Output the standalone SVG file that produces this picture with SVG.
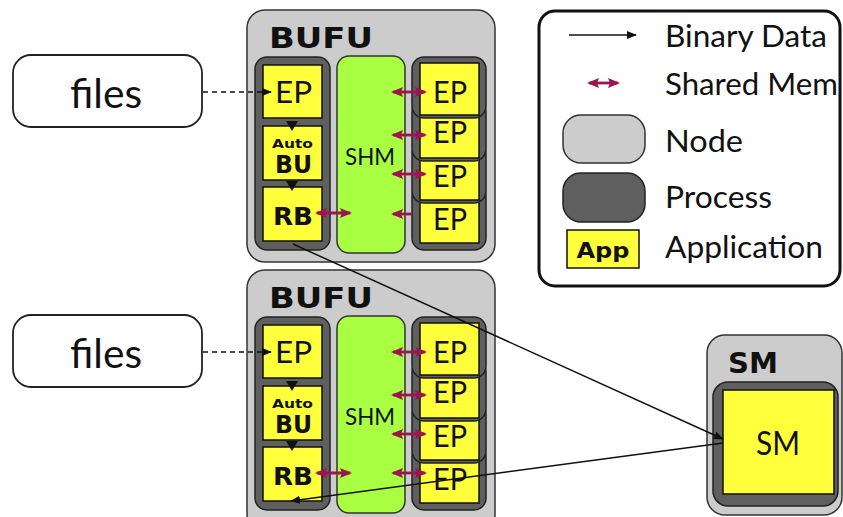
<svg xmlns="http://www.w3.org/2000/svg" width="843" height="517" viewBox="0 0 843 517">
<style>
.node{fill:#cccccc;stroke:#333;stroke-width:1.5}
.proc{fill:#5f5f5f;stroke:#222;stroke-width:1.5}
.app{fill:#ffff3c;stroke:#111;stroke-width:1.5}
.shm{fill:#a9ff42;stroke:#333;stroke-width:1.5}
.file{fill:#fff;stroke:#222;stroke-width:1.8}
text{font-family:Lato,"Open Sans","Liberation Sans",sans-serif;fill:#111}
.b{font-family:"DejaVu Sans","Liberation Sans",sans-serif;font-weight:bold}
.data{stroke:#111;stroke-width:1.5;fill:none}
.mem{stroke:#9b1550;stroke-width:2.8;fill:none}
</style>
<defs>
<marker id="ah" viewBox="0 0 10 10" refX="9" refY="5" markerWidth="10" markerHeight="10" markerUnits="userSpaceOnUse" orient="auto">
<path d="M0,1 L10,5 L0,9 Z" fill="#111"/>
</marker>
<marker id="mh" viewBox="0 0 12 10" refX="10" refY="5" markerWidth="12" markerHeight="10" markerUnits="userSpaceOnUse" orient="auto-start-reverse">
<path d="M0,0 L12,5 L0,10 L2,5 Z" fill="#9b1550"/>
</marker>
<g id="bufuTpl">
<rect class="proc" x="255" y="57" width="75" height="193" rx="12"/>
<rect class="app" x="263" y="65" width="59" height="53"/>
<rect class="app" x="263" y="126" width="59" height="54"/>
<rect class="app" x="263" y="187" width="59" height="54"/>
<text x="293.5" y="103" font-size="30" text-anchor="middle" textLength="37" lengthAdjust="spacingAndGlyphs">EP</text>
<text class="b" x="292.5" y="148" font-size="13" text-anchor="middle" textLength="41" lengthAdjust="spacingAndGlyphs">Auto</text>
<text class="b" x="293.5" y="173" font-size="24" text-anchor="middle" textLength="37" lengthAdjust="spacingAndGlyphs">BU</text>
<text class="b" x="293" y="225" font-size="24" text-anchor="middle" textLength="40" lengthAdjust="spacingAndGlyphs">RB</text>
<rect class="shm" x="337" y="56" width="68" height="197" rx="12"/>
<text x="370" y="165" font-size="23" text-anchor="middle" textLength="50" lengthAdjust="spacingAndGlyphs">SHM</text>
<rect class="proc" x="412" y="184" width="74" height="66" rx="12"/>
<rect class="app" x="420" y="190" width="59" height="53"/>
<text x="450" y="230" font-size="30" text-anchor="middle" textLength="34" lengthAdjust="spacingAndGlyphs">EP</text>
<rect class="proc" x="412" y="142" width="74" height="61" rx="12"/>
<rect class="app" x="420" y="148" width="59" height="52"/>
<text x="450" y="187" font-size="30" text-anchor="middle" textLength="34" lengthAdjust="spacingAndGlyphs">EP</text>
<rect class="proc" x="412" y="100" width="74" height="61" rx="12"/>
<rect class="app" x="420" y="106" width="59" height="52"/>
<text x="450" y="143" font-size="30" text-anchor="middle" textLength="34" lengthAdjust="spacingAndGlyphs">EP</text>
<rect class="proc" x="412" y="57" width="74" height="61" rx="12"/>
<rect class="app" x="420" y="63" width="59" height="52"/>
<text x="450" y="103" font-size="30" text-anchor="middle" textLength="34" lengthAdjust="spacingAndGlyphs">EP</text>
</g>
</defs>
<rect width="843" height="517" fill="#fff"/>

<g id="files1">
<rect class="file" x="13" y="55" width="189" height="72" rx="18"/>
<text x="106" y="108" font-size="40" text-anchor="middle" textLength="72" lengthAdjust="spacingAndGlyphs">files</text>
</g>
<g id="files2">
<rect class="file" x="13" y="315" width="189" height="72" rx="18"/>
<text x="106" y="368" font-size="40" text-anchor="middle" textLength="72" lengthAdjust="spacingAndGlyphs">files</text>
</g>

<g id="bufu1">
<rect class="node" x="247" y="10" width="248" height="252" rx="18"/>
<text class="b" x="269" y="48" font-size="29" textLength="104" lengthAdjust="spacingAndGlyphs">BUFU</text>
<use href="#bufuTpl"/>
</g>
<g id="bufu2">
<rect class="node" x="247" y="270" width="248" height="262" rx="18"/>
<text class="b" x="269" y="308" font-size="29" textLength="104" lengthAdjust="spacingAndGlyphs">BUFU</text>
<use href="#bufuTpl" y="260"/>
</g>

<g id="sm">
<rect class="node" x="707" y="335" width="135" height="180" rx="18"/>
<text class="b" x="728" y="373" font-size="28" textLength="50" lengthAdjust="spacingAndGlyphs">SM</text>
<rect class="proc" x="713" y="382" width="125" height="124" rx="15"/>
<rect class="app" x="723" y="390" width="111" height="104"/>
<text x="778" y="455" font-size="32" text-anchor="middle" textLength="44" lengthAdjust="spacingAndGlyphs">SM</text>
</g>

<g id="legend">
<rect x="539" y="11" width="301" height="275" rx="16" fill="#fff" stroke="#111" stroke-width="3"/>
<line class="data" x1="569" y1="35" x2="636" y2="35" marker-end="url(#ah)"/>
<text x="665" y="47" font-size="30" textLength="162" lengthAdjust="spacingAndGlyphs">Binary Data</text>
<line class="mem" x1="589" y1="83" x2="618" y2="83" stroke-width="2.2" marker-start="url(#mh)" marker-end="url(#mh)"/>
<text x="665" y="95" font-size="30" textLength="173" lengthAdjust="spacingAndGlyphs">Shared Mem</text>
<rect class="node" x="563" y="115" width="82" height="48" rx="18"/>
<text x="665" y="152" font-size="30" textLength="78" lengthAdjust="spacingAndGlyphs">Node</text>
<rect class="proc" x="563" y="173" width="82" height="49" rx="18"/>
<text x="665" y="208" font-size="30" textLength="107" lengthAdjust="spacingAndGlyphs">Process</text>
<rect class="app" x="567" y="230" width="72" height="38"/>
<text class="b" x="603" y="258" font-size="22" text-anchor="middle" textLength="53" lengthAdjust="spacingAndGlyphs">App</text>
<text x="665" y="258" font-size="30" textLength="158" lengthAdjust="spacingAndGlyphs">Application</text>
</g>

<g id="connectors">
<line class="data" x1="203" y1="92" x2="271" y2="92" stroke-dasharray="5,4" marker-end="url(#ah)"/>
<line class="data" x1="203" y1="352" x2="271" y2="352" stroke-dasharray="5,4" marker-end="url(#ah)"/>
<path d="M286,121 L298,121 L292,131 Z M286,181 L298,181 L292,191 Z M286,381 L298,381 L292,391 Z M286,441 L298,441 L292,451 Z" fill="#111"/>
<g class="mem">
<line x1="393" y1="92" x2="425" y2="92" marker-start="url(#mh)" marker-end="url(#mh)"/>
<line x1="393" y1="135" x2="425" y2="135" marker-start="url(#mh)" marker-end="url(#mh)"/>
<line x1="393" y1="174" x2="425" y2="174" marker-start="url(#mh)" marker-end="url(#mh)"/>
<line x1="412" y1="214" x2="393" y2="214" marker-end="url(#mh)"/>
<line x1="317" y1="213" x2="350" y2="213" marker-start="url(#mh)" marker-end="url(#mh)"/>
<line x1="393" y1="352" x2="425" y2="352" marker-start="url(#mh)" marker-end="url(#mh)"/>
<line x1="393" y1="395" x2="425" y2="395" marker-start="url(#mh)" marker-end="url(#mh)"/>
<line x1="393" y1="434" x2="425" y2="434" marker-start="url(#mh)" marker-end="url(#mh)"/>
<line x1="393" y1="473" x2="425" y2="473" marker-start="url(#mh)" marker-end="url(#mh)"/>
<line x1="317" y1="473" x2="350" y2="473" marker-start="url(#mh)" marker-end="url(#mh)"/>
</g>
<line class="data" x1="293" y1="244" x2="723" y2="439" marker-end="url(#ah)"/>
<line class="data" x1="723" y1="443" x2="291" y2="501" marker-end="url(#ah)"/>
</g>
</svg>
